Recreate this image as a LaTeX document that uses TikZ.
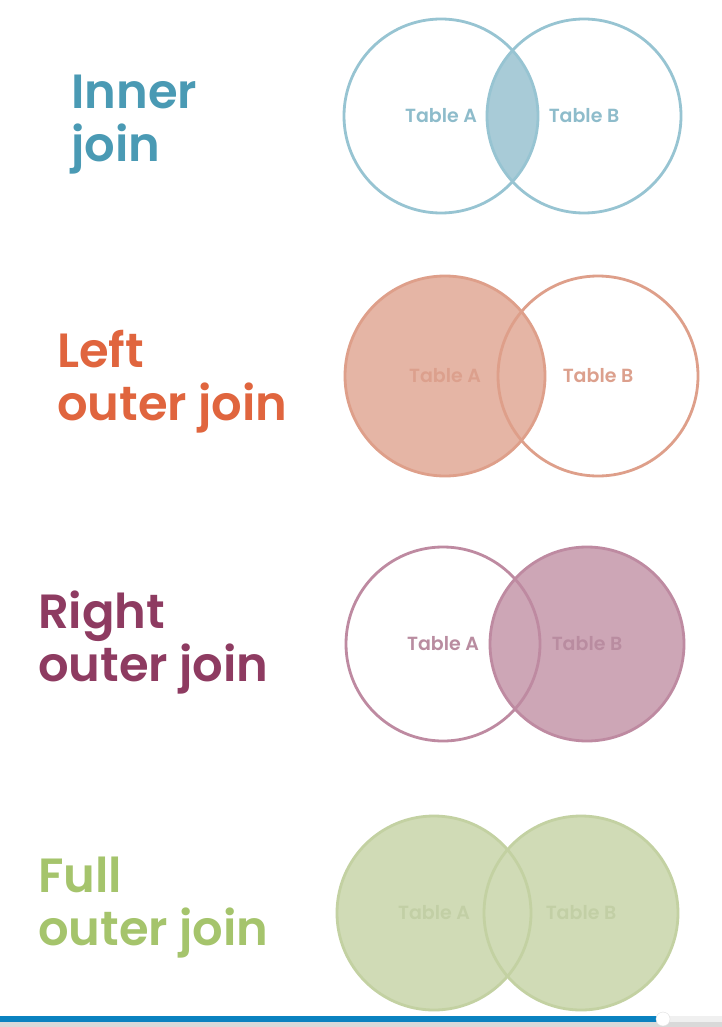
\documentclass[tikz,border=0pt]{standalone}
\usepackage{fontspec}
\setmainfont{Poppins}
\newfontfamily\titlefont{Poppins}[UprightFont=* SemiBold]
\usetikzlibrary{positioning}

\definecolor{innerdark}{HTML}{4A9AB4}
\definecolor{innerline}{HTML}{97C4D2}
\definecolor{innerfill}{HTML}{A8CBD7}
\definecolor{innertext}{HTML}{8EBCCB}
\definecolor{leftdark}{HTML}{E0653E}
\definecolor{leftline}{HTML}{DE9F8A}
\definecolor{leftfill}{HTML}{E5B5A5}
\definecolor{lefttext}{HTML}{DCA08D}
\definecolor{rightdark}{HTML}{8E3B61}
\definecolor{rightline}{HTML}{BE8AA1}
\definecolor{rightfill}{HTML}{CDA6B6}
\definecolor{righttext}{HTML}{B98CA0}
\definecolor{fulldark}{HTML}{A5C46C}
\definecolor{fullline}{HTML}{C3D1A2}
\definecolor{fullfill}{HTML}{D0DBB6}
\definecolor{fulltext}{HTML}{C2CFA5}
\definecolor{barblue}{HTML}{0A82C0}

\begin{document}
\begin{tikzpicture}[
  x=1pt, y=-1pt,
  title/.style={anchor=base west, align=left, inner sep=0pt, font=\titlefont\fontsize{48}{53}\selectfont},
  venn/.style={circle, minimum size=194pt, inner sep=0pt, line width=2.8pt, font=\titlefont\fontsize{19}{21}\selectfont},
  bigvenn/.style={venn, minimum size=200pt}
]

\fill[white] (0,0) rectangle (722,1027);
\useasboundingbox (0,0) rectangle (722,1027);

% inner join
\node[title, text=innerdark] (inner) at (71,162) {Inner\\join};
\begin{scope}
  \clip (441,116) circle (97);
  \fill[innerfill] (584,116) circle (97);
\end{scope}
\node[venn, draw=innerline, text=innertext] (A1) at (441,116) {Table A};
\node[venn, draw=innerline, text=innertext] (B1) at (584,116) {Table B};

% left outer join
\node[title, text=leftdark] (left) at (57,420) {Left\\outer join};
\node[bigvenn, draw=leftline, fill=leftfill, text=lefttext] (A2) at (445,376) {Table A};
\node[bigvenn, draw=leftline, text=lefttext] (B2) at (598,376) {Table B};

% right outer join
\node[title, text=rightdark] (right) at (38,681) {Right\\outer join};
\node[venn, draw=rightline, fill=rightfill, text=righttext] (B3) at (587,644) {Table B};
\node[venn, draw=rightline, text=righttext] (A3) at (443,644) {Table A};

% full outer join
\node[title, text=fulldark] (full) at (38,945) {Full\\outer join};
\fill[fullfill] (434,913) circle (97) (581,913) circle (97);
\node[venn, draw=fullline, text=fulltext] (A4) at (434,913) {Table A};
\node[venn, draw=fullline, text=fulltext] (B4) at (581,913) {Table B};

% player bar
\fill[gray!30] (0,1022) rectangle (722,1027);
\fill[gray!12] (0,1016) rectangle (722,1022);
\fill[barblue] (0,1016) rectangle (663,1022);
\fill[white, draw=gray!25] (663,1019) circle (7);

\end{tikzpicture}
\end{document}
